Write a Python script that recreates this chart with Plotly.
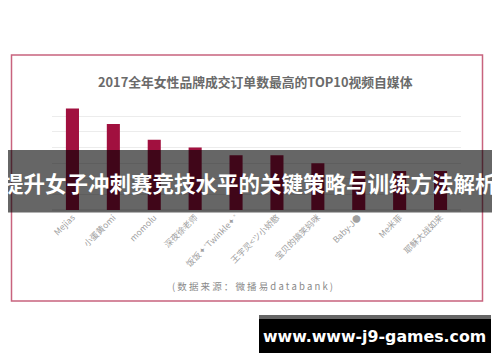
import plotly.graph_objects as go

categories = ["Mejias", "小蛋黄omi", "momolu", "深夜徐老师", "饭饭✦˚Twinkle✦˚",
              "王宇灵<ツ小娇憨", "宝贝的搞笑妈咪", "Baby-J●", "Me米菲", "耶稣大战如来"]
values = [6.5, 5.5, 4.5, 4.0, 3.5, 3.5, 3.0, 2.5, 2.5, 2.5]

title_text = "2017全年女性品牌成交订单数最高的TOP10视频自媒体"
source_text = "( 数 据 来 源 ： 微 播 易 d a t a b a n k )"
banner_text = "提升女子冲刺赛竞技水平的关键策略与训练方法解析"
site_text = "www.www-j9-games.com"

W, H = 500, 362
def px(x):
    return x / W
def py(y):
    return 1 - y / H

CJK = "Noto Sans CJK SC"

fig = go.Figure()
fig.add_trace(go.Bar(
    x=categories, y=values, width=0.32,
    marker=dict(color="#a1103f", line=dict(width=0)),
))

fig.update_layout(
    width=W, height=H,
    margin=dict(l=0, r=0, t=0, b=0),
    paper_bgcolor="#ffffff", plot_bgcolor="#ffffff",
    showlegend=False,
    xaxis=dict(domain=[px(52), px(461)], showline=False, ticks="",
               tickangle=-45, tickfont=dict(family=CJK, size=8.5, color="#a0a0a0"),
               showgrid=False, zeroline=False, automargin=False),
    yaxis=dict(domain=[py(210), py(100.7)], range=[0, 7], dtick=1,
               showticklabels=False, showgrid=True, gridcolor="#ececec",
               gridwidth=1, zeroline=True, zerolinecolor="#ececec", showline=False,
               automargin=False),
    font=dict(family=CJK),
)

shapes = [
    dict(type="rect", xref="paper", yref="paper",
         x0=px(11.5), x1=px(482.5), y0=py(301), y1=py(55),
         line=dict(color="#c8637e", width=1.5), fillcolor="rgba(0,0,0,0)", layer="below"),
    dict(type="rect", xref="paper", yref="paper",
         x0=px(8), x1=px(492), y0=py(212.5), y1=py(150),
         line=dict(width=0), fillcolor="rgba(0,0,0,0.6)", layer="above"),
    dict(type="rect", xref="paper", yref="paper",
         x0=px(259), x1=px(491), y0=py(353), y1=py(315),
         line=dict(width=0), fillcolor="#000000", layer="above"),
    dict(type="rect", xref="paper", yref="paper",
         x0=px(259), x1=px(491), y0=py(319), y1=py(315),
         line=dict(width=0), fillcolor="#666666", layer="above"),
]
fig.update_layout(shapes=shapes)

annotations = [
    dict(text=title_text, x=px(255.5), y=py(81), xref="paper", yref="paper",
         showarrow=False, xanchor="center", yanchor="middle",
         font=dict(family=CJK, size=12.8, color="#6a6a6a", weight="bold")),
    dict(text=source_text, x=px(252), y=py(286), xref="paper", yref="paper",
         showarrow=False, xanchor="center", yanchor="middle",
         font=dict(family=CJK, size=9.5, color="#8a8a8a")),
    dict(text=banner_text, x=px(249.5), y=py(182), xref="paper", yref="paper",
         showarrow=False, xanchor="center", yanchor="middle",
         font=dict(family=CJK, size=21.5, color="#ffffff", weight="bold")),
    dict(text=site_text, x=px(374), y=py(336.5), xref="paper", yref="paper",
         showarrow=False, xanchor="center", yanchor="middle",
         font=dict(family="DejaVu Sans", size=15.8, color="#ffffff", weight="bold")),
]
fig.update_layout(annotations=annotations)

fig.write_html("out.html", config={"displayModeBar": False},
               post_script="document.body.style.margin='0';document.body.style.padding='0';window.dispatchEvent(new Event('resize'));")
